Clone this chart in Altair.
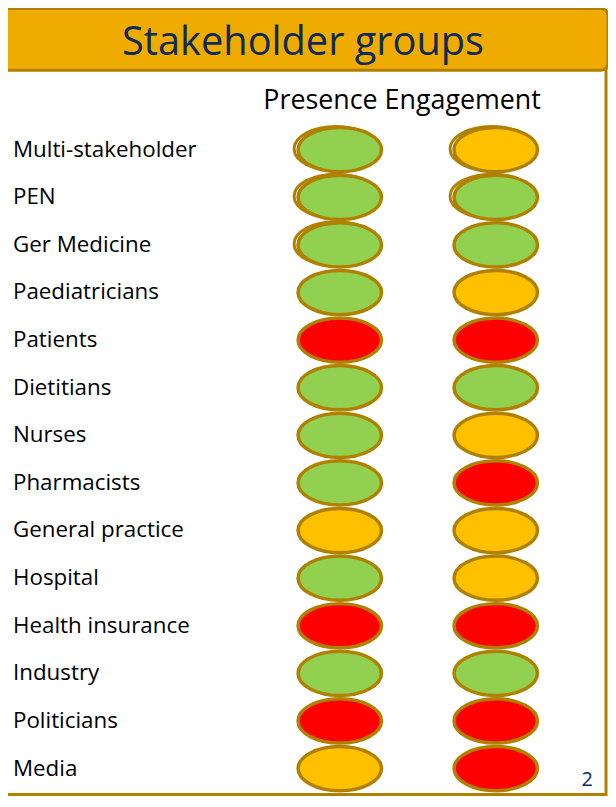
import altair as alt
import pandas as pd

groups = ["Multi-stakeholder", "PEN", "Ger Medicine", "Paediatricians", "Patients",
          "Dietitians", "Nurses", "Pharmacists", "General practice", "Hospital",
          "Health insurance", "Industry", "Politicians", "Media"]
presence = ["green", "green", "green", "green", "red", "green", "green", "green",
            "amber", "green", "red", "green", "red", "amber"]
engagement = ["amber", "green", "green", "amber", "red", "green", "amber", "red",
              "amber", "amber", "red", "green", "red", "red"]
columns = ["Presence", "Engagement"]
status_names = ["green", "amber", "red"]
status_colors = ["#92D050", "#FFC000", "#FF0000"]
double_outline = [("Multi-stakeholder", "Presence"), ("PEN", "Presence"),
                  ("Ger Medicine", "Presence"), ("Multi-stakeholder", "Engagement"),
                  ("PEN", "Engagement")]

title_text = "Stakeholder groups"
header_text = "Presence Engagement"
page_number = "2"

FONT = "Open Sans"
NAVY = "#0E2A5C"
OCHRE = "#B08000"
GOLD = "#F0AB00"

rows = []
for g, p, e in zip(groups, presence, engagement):
    rows.append({"group": g, "column": "Presence", "status": p,
                 "double": (g, "Presence") in double_outline})
    rows.append({"group": g, "column": "Engagement", "status": e,
                 "double": (g, "Engagement") in double_outline})
df = pd.DataFrame(rows)
labels_df = pd.DataFrame({"group": groups})

ELLIPSE = "M-1,0A1,0.53,0,1,1,1,0A1,0.53,0,1,1,-1,0Z"

yscale = alt.Scale(domain=groups, range=[140, 763], padding=0)
xscale = alt.Scale(domain=columns, range=[334, 491], padding=0)

one = pd.DataFrame({"a": [0]})

box = alt.Chart(one).mark_rect(fill="white", stroke=OCHRE, strokeWidth=3).encode(
    x=alt.value(-3), x2=alt.value(602), y=alt.value(58), y2=alt.value(789))

header = alt.Chart(one).mark_rect(fill=GOLD, stroke=OCHRE, strokeWidth=3,
                                  cornerRadius=7).encode(
    x=alt.value(-8), x2=alt.value(604), y=alt.value(-2), y2=alt.value(60))

title = alt.Chart(pd.DataFrame({"t": [title_text]})).mark_text(
    font=FONT, fontSize=40, color=NAVY, align="center", baseline="middle").encode(
    text="t:N", x=alt.value(297), y=alt.value(33))

colhead = alt.Chart(pd.DataFrame({"t": [header_text]})).mark_text(
    font=FONT, fontSize=27, color="black", align="left", baseline="middle").encode(
    text="t:N", x=alt.value(257), y=alt.value(91))

labels = alt.Chart(labels_df).mark_text(
    font=FONT, fontSize=22.5, color="black", align="left", baseline="middle").encode(
    text="group:N", x=alt.value(5),
    y=alt.Y("group:N", sort=groups, scale=yscale, axis=None))

ellipses = alt.Chart(df).mark_point(
    shape=ELLIPSE, filled=True, size=7056, stroke=OCHRE, strokeWidth=3.5,
    opacity=1, fillOpacity=1, strokeOpacity=1).encode(
    x=alt.X("column:N", sort=columns, scale=xscale, axis=None),
    y=alt.Y("group:N", sort=groups, scale=yscale, axis=None),
    fill=alt.Fill("status:N", scale=alt.Scale(domain=status_names, range=status_colors),
                  legend=None))

doubles = alt.Chart(df).transform_filter("datum.double").mark_point(
    shape=ELLIPSE, filled=False, size=7056, stroke=OCHRE, strokeWidth=3,
    opacity=1, xOffset=-4, yOffset=-1).encode(
    x=alt.X("column:N", sort=columns, scale=xscale, axis=None),
    y=alt.Y("group:N", sort=groups, scale=yscale, axis=None))

pagenum = alt.Chart(pd.DataFrame({"t": [page_number]})).mark_text(
    font=FONT, fontSize=20, color=NAVY, align="center", baseline="middle").encode(
    text="t:N", x=alt.value(583), y=alt.value(775))

chart = alt.layer(box, header, title, colhead, labels, doubles, ellipses, pagenum).properties(
    width=604, height=791,
    autosize=alt.AutoSizeParams(type="none"),
    padding=0,
).configure_view(stroke=None)

chart.save("out.html", embed_options={"renderer": "svg", "actions": False})
